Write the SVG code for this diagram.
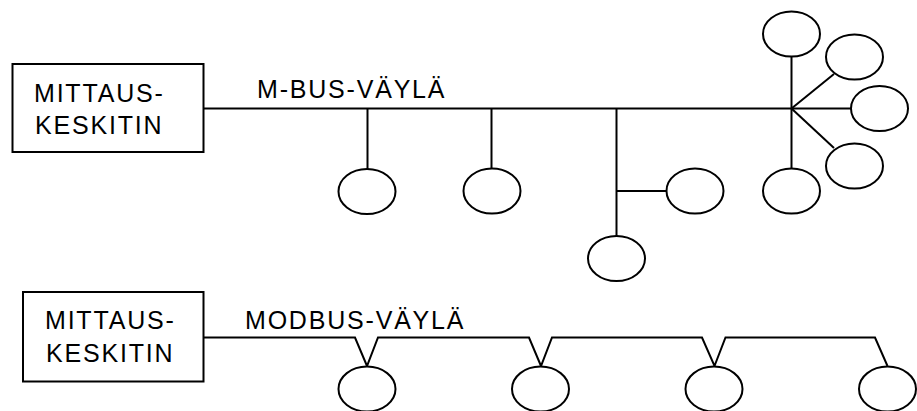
<svg xmlns="http://www.w3.org/2000/svg" width="917" height="411" viewBox="0 0 917 411">
  <style>
    .box { fill: #fff; stroke: #000; stroke-width: 2; }
    .dev { fill: #fff; stroke: #000; stroke-width: 2; }
    .wire { fill: none; stroke: #000; stroke-width: 2; stroke-linejoin: miter; }
    .lbl { font-family: "Liberation Sans", Arial, sans-serif; font-size: 25px; letter-spacing: 1.8px; fill: #000; }
  </style>
  <rect width="917" height="411" fill="#fff"/>

  <!-- M-Bus network: connectors -->
  <g id="mbus-wires" class="wire">
    <line x1="203.5" y1="108.5" x2="791.5" y2="108.5"/>
    <line x1="367.5" y1="108.5" x2="367.5" y2="169"/>
    <line x1="491.5" y1="108.5" x2="491.5" y2="169"/>
    <line x1="616.5" y1="108.5" x2="616.5" y2="236"/>
    <line x1="616.5" y1="191" x2="667" y2="191"/>
    <line x1="791.5" y1="108.5" x2="791.5" y2="57"/>
    <line x1="791.5" y1="108.5" x2="834" y2="74"/>
    <line x1="791.5" y1="108.5" x2="851" y2="108.5"/>
    <line x1="791.5" y1="108.5" x2="834" y2="148"/>
    <line x1="791.5" y1="108.5" x2="791.5" y2="169"/>
  </g>

  <g id="mbus-hub">
    <rect class="box" x="12.5" y="64" width="191" height="88"/>
    <text class="lbl" x="34" y="101.5">MITTAUS-</text>
    <text class="lbl" x="35" y="133.5">KESKITIN</text>
  </g>
  <text class="lbl" x="257" y="98">M-BUS-VÄYLÄ</text>

  <g id="mbus-meter-1"><ellipse class="dev" cx="367" cy="191.5" rx="28.5" ry="22.5"/></g>
  <g id="mbus-meter-2"><ellipse class="dev" cx="492" cy="191" rx="28.5" ry="22.5"/></g>
  <g id="mbus-meter-3"><ellipse class="dev" cx="695" cy="191" rx="28.5" ry="22.5"/></g>
  <g id="mbus-meter-4"><ellipse class="dev" cx="616.5" cy="258.5" rx="28.5" ry="22.5"/></g>
  <g id="mbus-meter-5"><ellipse class="dev" cx="791.5" cy="34" rx="28.5" ry="22.5"/></g>
  <g id="mbus-meter-6"><ellipse class="dev" cx="854.5" cy="57" rx="28.5" ry="22.5"/></g>
  <g id="mbus-meter-7"><ellipse class="dev" cx="879.5" cy="108.5" rx="28.5" ry="22.5"/></g>
  <g id="mbus-meter-8"><ellipse class="dev" cx="854.5" cy="166" rx="28.5" ry="22.5"/></g>
  <g id="mbus-meter-9"><ellipse class="dev" cx="791.5" cy="191" rx="28.5" ry="22.5"/></g>

  <!-- Modbus network: daisy chain -->
  <g id="modbus-wires" class="wire">
    <polyline points="203.5,337.5 355,337.5 367,366 378,337.5 529,337.5 541,366 552,337.5 702,337.5 714.5,366 725.5,337.5 875,337.5 887.5,366"/>
  </g>

  <g id="modbus-hub">
    <rect class="box" x="23" y="292" width="180.5" height="89.5"/>
    <text class="lbl" x="45" y="329">MITTAUS-</text>
    <text class="lbl" x="46" y="362">KESKITIN</text>
  </g>
  <text class="lbl" x="245" y="329">MODBUS-VÄYLÄ</text>

  <g id="modbus-meter-1"><ellipse class="dev" cx="367" cy="389" rx="28.5" ry="22.5"/></g>
  <g id="modbus-meter-2"><ellipse class="dev" cx="540.5" cy="389" rx="28.5" ry="22.5"/></g>
  <g id="modbus-meter-3"><ellipse class="dev" cx="714" cy="389" rx="28.5" ry="22.5"/></g>
  <g id="modbus-meter-4"><ellipse class="dev" cx="887.5" cy="389" rx="28.5" ry="22.5"/></g>
</svg>
